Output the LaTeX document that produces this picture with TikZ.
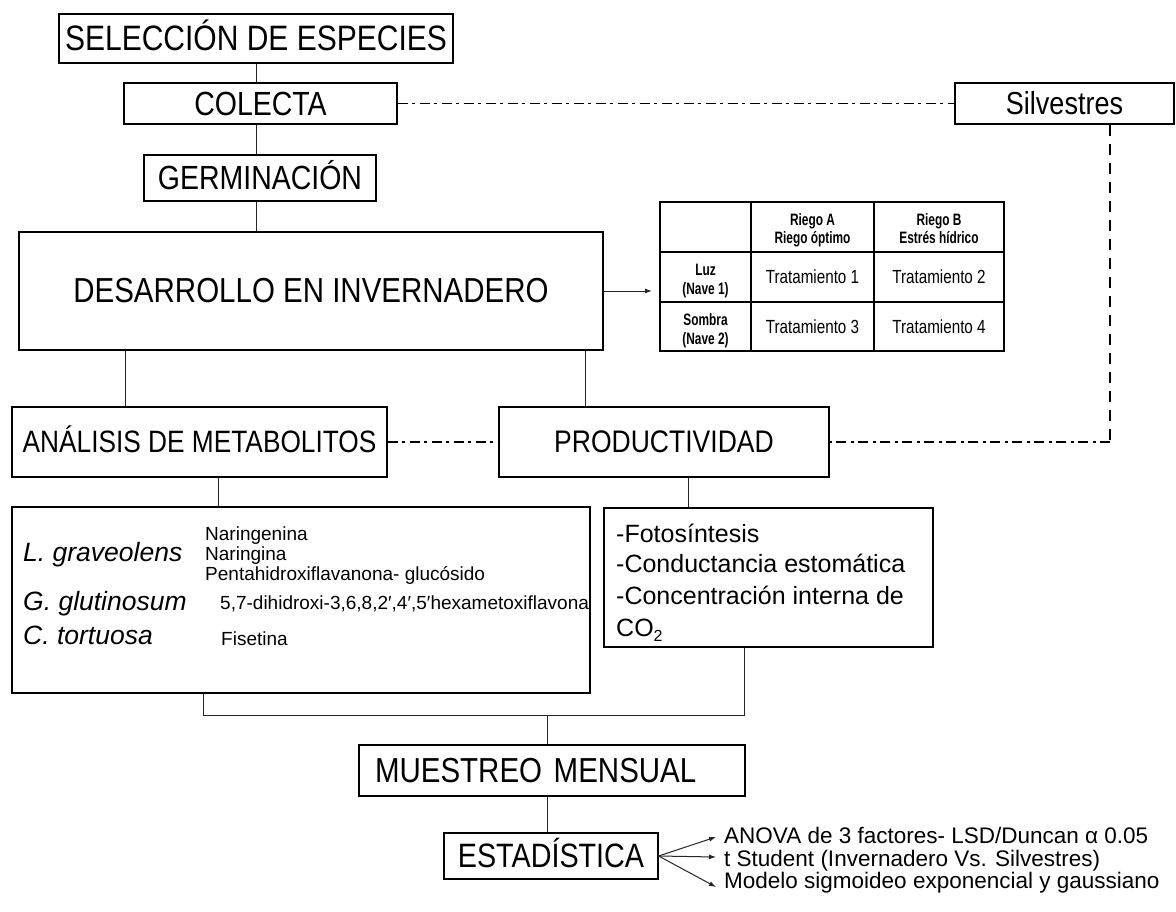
\documentclass[tikz,border=0pt]{standalone}
\usepackage{fontspec}
\setmainfont{Liberation Sans}
\newfontfamily\titlefont[FakeStretch=0.85]{Liberation Sans}
\newfontfamily\narrowfont[FakeStretch=0.8]{Liberation Sans}
\newfontfamily\narrowbold[FakeStretch=0.72]{Liberation Sans Bold}
\usetikzlibrary{arrows.meta}
\newcommand\fsz[1]{\fontsize{#1}{#1}\selectfont}
\begin{document}
\begin{tikzpicture}[x=1pt,y=-1pt,
  box/.style={draw=black, line width=1.2pt, inner sep=0pt, text depth=0pt},
  conn/.style={draw=black!85, line width=1pt},
  dashdot/.style={draw=black, line width=1.4pt, dash pattern=on 10pt off 4.5pt on 3pt off 4.5pt},
  dashv/.style={draw=black, line width=1.4pt, dash pattern=on 11pt off 8pt},
  arr/.style={conn, -{Latex[length=7pt,width=5pt]}},
  lbl/.style={inner sep=0pt, anchor=base west},
  tline/.style={draw=black, line width=1.6pt},
  tcell/.style={inner sep=0pt, anchor=base, font=\narrowfont\fsz{19}},
  thead/.style={inner sep=0pt, anchor=base, font=\narrowbold\fsz{16.5}}]
\useasboundingbox (0,0) rectangle (1176,911);

% main boxes
\node[box, minimum width=394pt, minimum height=49pt, text height=24.4pt, font=\titlefont\fsz{35.3}] (sel) at (256,38.5) {SELECCIÓN DE ESPECIES};
\node[box, minimum width=273pt, minimum height=41pt, text height=23.1pt, font=\titlefont\fsz{33.5}] (col) at (260.5,103.5) {COLECTA};
\node[box, minimum width=219pt, minimum height=41pt, text height=21.9pt, font=\titlefont\fsz{31.8}] (sil) at (1064.5,103.5) {Silvestres};
\node[box, minimum width=232pt, minimum height=46pt, text height=23.1pt, font=\titlefont\fsz{33.5}] (ger) at (260,178) {GERMINACIÓN};
\node[box, minimum width=584pt, minimum height=118pt, text height=23.9pt, font=\titlefont\fsz{34.7}] (des) at (311,291) {DESARROLLO EN INVERNADERO};
\node[box, minimum width=375pt, minimum height=70pt, text height=21.3pt, font=\titlefont\fsz{30.9}] (ana) at (199.5,442) {ANÁLISIS DE METABOLITOS};
\node[box, minimum width=330pt, minimum height=70pt, text height=21.5pt, font=\titlefont\fsz{31.2}] (pro) at (664,442) {PRODUCTIVIDAD};
\node[box, minimum width=578pt, minimum height=186pt] (met) at (301,600) {};
\node[box, minimum width=329pt, minimum height=139pt] (lst) at (768.5,577.5) {};
\node[box, minimum width=386pt, minimum height=51pt, text width=354pt, align=left, inner xsep=16pt, text height=23.9pt, font=\titlefont\fsz{34.7}] (mue) at (552,770.5) {MUESTREO MENSUAL};
\node[box, minimum width=214pt, minimum height=46pt, text height=23.3pt, font=\titlefont\fsz{33.8}] (est) at (551,856) {ESTADÍSTICA};

% table
\node[tline, minimum width=344pt, minimum height=149pt, inner sep=0pt] (tab) at (832,276.5) {};
\draw[tline] (751,202) -- (751,351);
\draw[tline] (874,202) -- (874,351);
\draw[tline] (660,252) -- (1004,252);
\draw[tline] (660,302) -- (1004,302);
\node[thead] (hA1) at (812.5,225.5) {Riego A};
\node[thead] (hA2) at (812.5,243.5) {Riego óptimo};
\node[thead] (hB1) at (939,225.5) {Riego B};
\node[thead] (hB2) at (939,243.5) {Estrés hídrico};
\node[thead] (r1a) at (705.5,275.5) {Luz};
\node[thead] (r1b) at (705.5,294.5) {(Nave 1)};
\node[thead] (r2a) at (705.5,325.5) {Sombra};
\node[thead] (r2b) at (705.5,344.5) {(Nave 2)};
\node[tcell] (t1) at (812.5,283.5) {Tratamiento 1};
\node[tcell] (t2) at (939,283.5) {Tratamiento 2};
\node[tcell] (t3) at (812.5,333.5) {Tratamiento 3};
\node[tcell] (t4) at (939,333.5) {Tratamiento 4};

% metabolites content
\node[lbl, font=\fsz{26.5}\itshape] (lg) at (23,561) {L. graveolens};
\node[lbl, font=\fsz{26.5}\itshape] (gg) at (23,610) {G. glutinosum};
\node[lbl, font=\fsz{26.5}\itshape] (ct) at (23,644) {C. tortuosa};
\node[lbl, font=\fsz{19}] (c1) at (205,540) {Naringenina};
\node[lbl, font=\fsz{19}] (c2) at (205,560) {Naringina};
\node[lbl, font=\fsz{19}] (c3) at (205,580) {Pentahidroxiflavanona- glucósido};
\node[lbl, font=\fsz{19}] (c4) at (220,609) {5,7-dihidroxi-3,6,8,2′,4′,5′hexametoxiflavona};
\node[lbl, font=\fsz{19}] (c5) at (221,645) {Fisetina};

% productivity content
\node[lbl, font=\fsz{25}] (p1) at (616,542) {-Fotosíntesis};
\node[lbl, font=\fsz{25}] (p2) at (616,572) {-Conductancia estomática};
\node[lbl, font=\fsz{25}] (p3) at (616,604) {-Concentración interna de};
\node[lbl, font=\fsz{25}] (p4) at (616,636) {CO\raisebox{-5pt}{\fsz{16}2}};

% statistics texts
\node[lbl, font=\fsz{22.5}] (s1) at (724,843.5) {ANOVA de 3 factores- LSD/Duncan α 0.05};
\node[lbl, font=\fsz{22.5}] (s2) at (724,866) {t Student (Invernadero Vs. Silvestres)};
\node[lbl, font=\fsz{22.5}] (s3) at (724,888.5) {Modelo sigmoideo exponencial y gaussiano};

% coordinates
\coordinate (xd1) at (125,0);
\coordinate (xd2) at (585,0);
\coordinate (xa) at (218,0);
\coordinate (xp) at (688,0);
\coordinate (silturn) at (1110,442);
\coordinate (jl) at (203,715);
\coordinate (jr) at (744,715);
\coordinate (jm) at (547,715);
\coordinate (tabin) at (652,291);
\coordinate (a1) at (716,837);
\coordinate (a2) at (716,857);
\coordinate (a3) at (716,887);

% connectors
\draw[conn] (sel.south) -- (sel.south |- col.north);
\draw[conn] (sel.south |- col.south) -- (sel.south |- ger.north);
\draw[conn] (sel.south |- ger.south) -- (sel.south |- des.north);
\draw[dashdot] (col.east) -- (sil.west);
\draw[dashv] (sil.south -| silturn) -- (silturn);
\draw[dashdot] (silturn) -- (pro.east);
\draw[arr] (des.east) -- (tabin);
\draw[conn] (des.south -| xd1) -- (ana.north -| xd1);
\draw[conn] (des.south -| xd2) -- (pro.north -| xd2);
\draw[dashdot] (ana.east) -- (pro.west);
\draw[conn] (ana.south -| xa) -- (met.north -| xa);
\draw[conn] (pro.south -| xp) -- (lst.north -| xp);
\draw[conn] (met.south -| jl) -- (jl) -- (jr) -- (lst.south -| jr);
\draw[conn] (jm) -- (mue.north -| jm);
\draw[conn] (mue.south -| jm) -- (est.north -| jm);
\draw[arr] (est.east) -- (a1);
\draw[arr] (est.east) -- (a2);
\draw[arr] (est.east) -- (a3);
\end{tikzpicture}
\end{document}
